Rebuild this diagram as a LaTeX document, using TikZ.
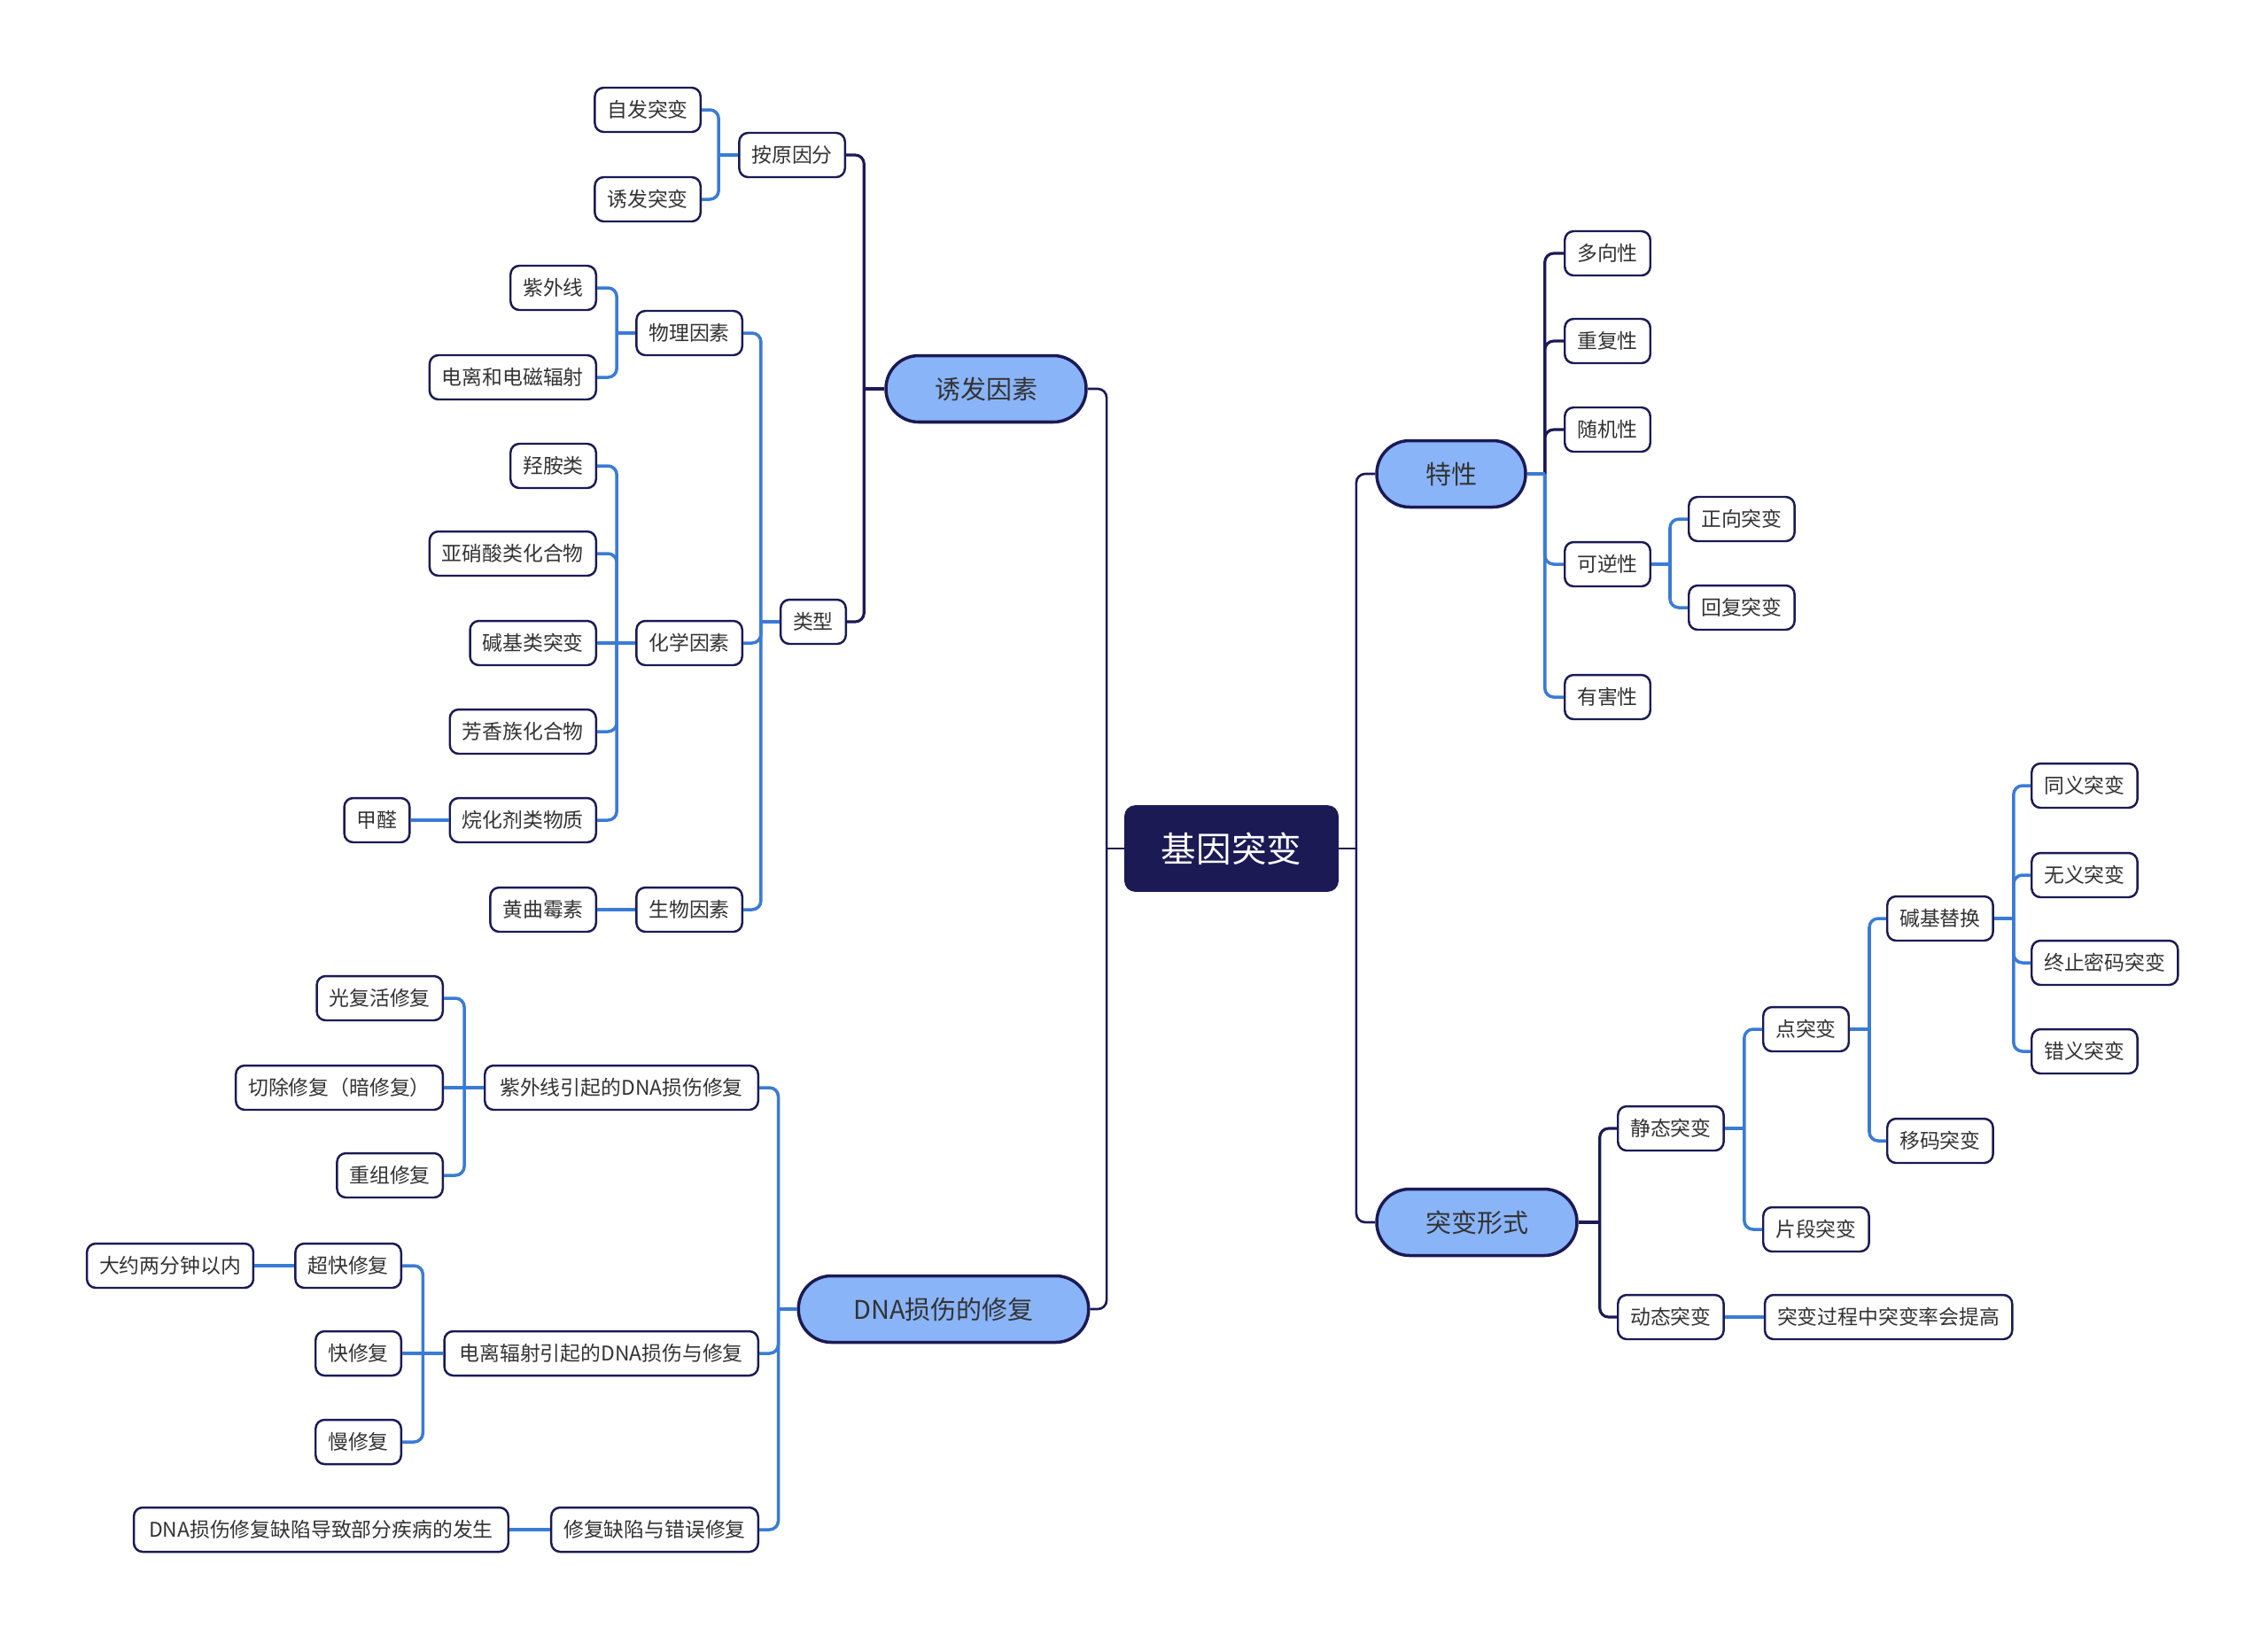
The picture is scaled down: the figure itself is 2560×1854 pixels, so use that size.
\documentclass[tikz,border=0pt]{standalone}
\usepackage{fontspec}
\setmainfont{Noto Sans CJK SC}
\usetikzlibrary{positioning}
\definecolor{navy}{HTML}{1B1A55}
\definecolor{pillblue}{HTML}{8AB4F8}
\definecolor{linkblue}{HTML}{3A7BD5}
\definecolor{ink}{HTML}{333333}

\begin{document}
\begin{tikzpicture}[
  x=0.02cm, y=-0.02cm,
  root/.style={fill=navy, draw=navy, rounded corners=0.24cm, text=white,
    font=\fontsize{22.5pt}{22.5pt}\selectfont, minimum height=1.94cm,
    inner xsep=0.83cm, inner ysep=0pt},
  topic/.style={fill=pillblue, draw=navy, line width=2pt, rounded corners=0.74cm,
    text=ink, font=\fontsize{16.5pt}{16.5pt}\selectfont, minimum height=1.5cm,
    inner xsep=1.1cm, inner ysep=0pt},
  leaf/.style={fill=white, draw=navy, line width=1.4pt, rounded corners=0.2cm,
    text=ink, font=\fontsize{13pt}{13pt}\selectfont, minimum height=1cm,
    inner xsep=0.28cm, inner ysep=0pt},
  lnode/.style={leaf, anchor=east},
  rnode/.style={leaf, anchor=west},
  trunk/.style={navy, line width=1.5pt, rounded corners=0.2cm},
  branch/.style={navy, line width=1.8pt, rounded corners=0.2cm},
  twig/.style={linkblue, line width=2pt, rounded corners=0.2cm}
]
\useasboundingbox (0,0) rectangle (2560,1854);

% centre and main topics
\node[root] (gene) at (1390,958) {基因突变};
\node[topic] (cause) at (1113,439) {诱发因素};
\node[topic] (trait) at (1638,535) {特性};
\node[topic] (forms) at (1667,1380) {突变形式};
\node[topic, inner xsep=1.24cm] (repair) at (1065,1478) {DNA损伤的修复};

% 诱发因素
\node[lnode] (bycause) at (955,175) {按原因分};
\node[lnode] (types) at (956,702) {类型};
\node[lnode] (spont) at (792,124) {自发突变};
\node[lnode] (induced) at (792,225) {诱发突变};
\node[lnode] (phys) at (839,376) {物理因素};
\node[lnode] (chem) at (839,726) {化学因素};
\node[lnode] (bio) at (839,1027) {生物因素};
\node[lnode] (uv) at (674,325) {紫外线};
\node[lnode] (ion) at (674,426) {电离和电磁辐射};
\node[lnode] (hya) at (674,526) {羟胺类};
\node[lnode] (nitr) at (674,625) {亚硝酸类化合物};
\node[lnode] (base) at (674,726) {碱基类突变};
\node[lnode] (arom) at (674,826) {芳香族化合物};
\node[lnode] (alky) at (674,926) {烷化剂类物质};
\node[leaf, left=0.86cm of alky] (formald) {甲醛};
\node[lnode] (afla) at (674,1027) {黄曲霉素};

% DNA损伤的修复
\node[lnode, inner xsep=0.34cm] (uvrep) at (857,1228) {紫外线引起的DNA损伤修复};
\node[lnode, inner xsep=0.34cm] (ionrep) at (857,1528) {电离辐射引起的DNA损伤与修复};
\node[lnode] (defect) at (857,1727) {修复缺陷与错误修复};
\node[lnode] (photo) at (501,1127) {光复活修复};
\node[lnode] (excis) at (501,1228) {切除修复（暗修复）};
\node[lnode] (recomb) at (501,1327) {重组修复};
\node[lnode] (ultra) at (454,1429) {超快修复};
\node[lnode] (fast) at (454,1528) {快修复};
\node[lnode] (slow) at (454,1628) {慢修复};
\node[leaf, left=0.9cm of ultra] (twomin) {大约两分钟以内};
\node[leaf, left=0.92cm of defect, inner xsep=0.34cm] (disease) {DNA损伤修复缺陷导致部分疾病的发生};

% 特性
\node[rnode] (multi) at (1765,286) {多向性};
\node[rnode] (recur) at (1765,385) {重复性};
\node[rnode] (rand) at (1765,485) {随机性};
\node[rnode] (rev) at (1765,637) {可逆性};
\node[rnode] (harm) at (1765,787) {有害性};
\node[rnode] (fwd) at (1905,586) {正向突变};
\node[rnode] (back) at (1905,686) {回复突变};

% 突变形式
\node[rnode] (static) at (1825,1274) {静态突变};
\node[rnode] (dyn) at (1825,1487) {动态突变};
\node[leaf, right=0.88cm of dyn] (dynrate) {突变过程中突变率会提高};
\node[rnode] (point) at (1989,1162) {点突变};
\node[rnode] (segm) at (1989,1388) {片段突变};
\node[rnode] (subst) at (2129,1037) {碱基替换};
\node[rnode] (shift) at (2129,1288) {移码突变};
\node[rnode] (syn) at (2292,887) {同义突变};
\node[rnode] (nons) at (2292,988) {无义突变};
\node[rnode] (stop) at (2292,1087) {终止密码突变};
\node[rnode] (mis) at (2292,1187) {错义突变};

% centre links
\draw[trunk] (gene.west) -- ++(-20,0) coordinate (gl);
\foreach \c in {cause, repair} \draw[trunk] (gl) |- (\c.east);
\draw[trunk] (gene.east) -- ++(20,0) coordinate (gr);
\foreach \c in {trait, forms} \draw[trunk] (gr) |- (\c.west);

% left links
\draw[branch] (cause.west) -- ++(-23,0) coordinate (cl);
\foreach \c in {bycause, types} \draw[branch] (cl) |- (\c.east);
\draw[twig] (bycause.west) -- ++(-22,0) coordinate (bl);
\foreach \c in {spont, induced} \draw[twig] (bl) |- (\c.east);
\draw[twig] (types.west) -- ++(-21,0) coordinate (tl);
\foreach \c in {phys, chem, bio} \draw[twig] (tl) |- (\c.east);
\draw[twig] (phys.west) -- ++(-21,0) coordinate (pl);
\foreach \c in {uv, ion} \draw[twig] (pl) |- (\c.east);
\draw[twig] (chem.west) -- ++(-21,0) coordinate (hl);
\foreach \c in {hya, nitr, arom, alky} \draw[twig] (hl) |- (\c.east);
\draw[twig] (hl) -- (base.east);
\draw[twig] (alky) -- (formald);
\draw[twig] (bio) -- (afla);

\draw[twig] (repair.west) -- ++(-21,0) coordinate (rl);
\foreach \c in {uvrep, ionrep, defect} \draw[twig] (rl) |- (\c.east);
\draw[twig] (uvrep.west) -- ++(-22,0) coordinate (ul);
\foreach \c in {photo, recomb} \draw[twig] (ul) |- (\c.east);
\draw[twig] (ul) -- (excis.east);
\draw[twig] (ionrep.west) -- ++(-23,0) coordinate (il);
\foreach \c in {ultra, slow} \draw[twig] (il) |- (\c.east);
\draw[twig] (il) -- (fast.east);
\draw[twig] (ultra) -- (twomin);
\draw[twig] (defect) -- (disease);

% right links
\draw[branch] (trait.east) -- ++(20,0) coordinate (trr);
\foreach \c in {multi, recur, rand} \draw[branch] (trr) |- (\c.west);
\foreach \c in {rev, harm} \draw[twig] (trr) |- (\c.west);
\draw[twig] (trait.east) -- (trr);
\draw[twig] (rev.east) -- ++(21,0) coordinate (vr);
\foreach \c in {fwd, back} \draw[twig] (vr) |- (\c.west);

\draw[branch] (forms.east) -- ++(24,0) coordinate (fr);
\foreach \c in {static, dyn} \draw[branch] (fr) |- (\c.west);
\draw[twig] (static.east) -- ++(22,0) coordinate (sr);
\foreach \c in {point, segm} \draw[twig] (sr) |- (\c.west);
\draw[twig] (point.east) -- ++(22,0) coordinate (pr);
\foreach \c in {subst, shift} \draw[twig] (pr) |- (\c.west);
\draw[twig] (subst.east) -- ++(22,0) coordinate (br);
\foreach \c in {syn, nons, stop, mis} \draw[twig] (br) |- (\c.west);
\draw[twig] (dyn) -- (dynrate);
\end{tikzpicture}
\end{document}
